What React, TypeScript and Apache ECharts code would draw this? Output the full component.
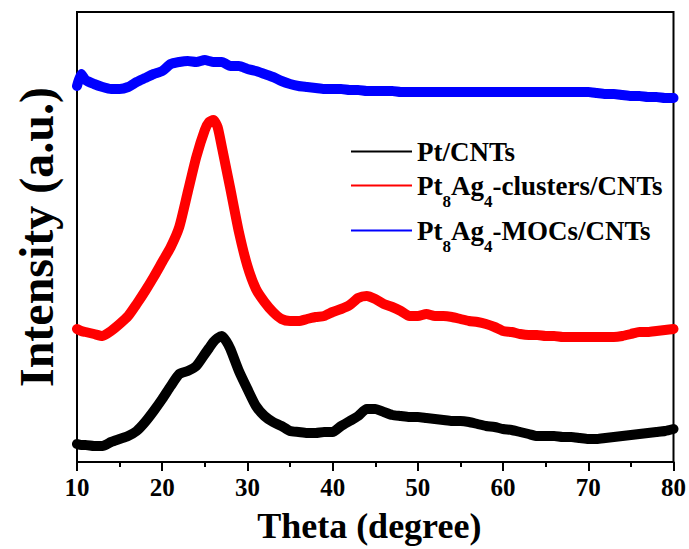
import React, { useEffect, useRef } from "react";
import * as echarts from "echarts";

// 2θ sampling positions (degree)
const theta: number[] = [
  10, 10.5, 11, 12, 13, 14, 15, 16, 17, 18, 19, 20, 21, 22, 23, 24, 25, 25.5, 26, 26.5, 27, 27.5,
  28, 29, 30, 31, 32, 33, 34, 35, 36, 37, 38, 39, 40, 41, 42, 43, 44, 45, 46, 47, 48, 49, 50,
  51, 52, 53, 54, 55, 56, 57, 58, 59, 60, 61, 62, 63, 64, 65, 66, 67, 68, 69, 70, 71, 72, 73,
  74, 75, 76, 77, 78, 79, 80,
];

// Intensities (a.u., curves stacked with offsets)
const ptCnts: number[] = [
  18, 17, 17, 16, 16, 20, 23, 26, 31, 40, 51, 63, 76, 88, 91, 96, 108, 114, 120, 124, 126, 121,
  113, 91, 73, 56, 46, 40, 36, 31, 30, 29, 29, 30, 30, 36, 41, 46, 53, 53, 50, 47, 46, 45, 45,
  44, 43, 42, 41, 41, 40, 38, 36, 35, 33, 32, 30, 28, 26, 26, 26, 25, 25, 24, 23, 23, 24, 25,
  26, 27, 28, 29, 30, 31, 33,
];

const clustersCnts: number[] = [
  133, 131, 130, 128, 126, 131, 138, 146, 158, 171, 185, 200, 215, 235, 270, 305, 332, 340, 342, 335, 315, 294,
  273, 230, 196, 173, 160, 150, 143, 141, 141, 143, 145, 146, 150, 153, 157, 164, 166, 163, 158, 155, 151, 146, 146,
  148, 146, 146, 145, 143, 141, 140, 138, 135, 131, 130, 128, 127, 127, 126, 126, 125, 125, 125, 125, 125, 125, 125,
  126, 128, 130, 130, 131, 132, 133,
];

const mocsCnts: number[] = [
  376, 388, 382, 378, 375, 373, 373, 375, 380, 384, 388, 391, 398, 400, 401, 400, 402, 401, 400, 400, 400, 398,
  396, 396, 393, 391, 388, 385, 381, 378, 376, 375, 374, 373, 373, 373, 372, 372, 371, 371, 371, 371, 370, 370, 370,
  370, 370, 370, 370, 370, 370, 370, 370, 370, 370, 370, 370, 370, 370, 370, 370, 370, 370, 370, 370, 369, 368, 368,
  367, 366, 366, 365, 365, 364, 364,
];

const seriesNames = ["Pt/CNTs", "Pt8Ag4-clusters/CNTs", "Pt8Ag4-MOCs/CNTs"];
const seriesColors = ["#000000", "#ff0000", "#0000ff"];
const legendRich: Record<string, string> = {
  "Pt/CNTs": "{n|Pt/CNTs}",
  "Pt8Ag4-clusters/CNTs": "{n|Pt}{s|8}{n|Ag}{s|4}{n|-clusters/CNTs}",
  "Pt8Ag4-MOCs/CNTs": "{n|Pt}{s|8}{n|Ag}{s|4}{n|-MOCs/CNTs}",
};

const xTicks = { min: 10, max: 80, interval: 10 };
const FONT = "'Liberation Serif', 'Times New Roman', serif";

export default function App() {
  const ref = useRef<HTMLDivElement>(null);

  useEffect(() => {
    if (!ref.current) return;
    const chart = echarts.init(ref.current, undefined, { renderer: "svg" });
    const values = [ptCnts, clustersCnts, mocsCnts];

    chart.setOption({
      animation: false,
      backgroundColor: "#ffffff",
      grid: {
        left: 77,
        right: 14,
        top: 12,
        bottom: 86,
        show: true,
        borderColor: "#000",
        borderWidth: 2,
        backgroundColor: "transparent",
      },
      legend: {
        orient: "vertical",
        left: 351,
        top: 138,
        padding: 0,
        itemWidth: 61,
        itemHeight: 2,
        itemGap: 7,
        icon: "rect",
        data: seriesNames,
        formatter: (name: string) => legendRich[name],
        textStyle: {
          rich: {
            n: {
              fontFamily: FONT,
              fontWeight: "bold",
              fontSize: 27,
              lineHeight: 30,
              color: "#000",
            },
            s: {
              fontFamily: FONT,
              fontWeight: "bold",
              fontSize: 17,
              lineHeight: 14,
              padding: [16, 0, -16, 0],
              color: "#000",
            },
          },
        },
      },
      xAxis: {
        type: "value",
        min: xTicks.min,
        max: xTicks.max,
        interval: xTicks.interval,
        name: "Theta (degree)",
        nameLocation: "middle",
        nameGap: 46,
        nameTextStyle: {
          fontFamily: FONT,
          fontWeight: "bold",
          fontSize: 36,
          color: "#000",
          padding: [0, 12, 0, 0],
        },
        axisLine: { show: true, onZero: false, lineStyle: { color: "#000", width: 2 } },
        axisTick: { show: true, inside: false, length: 9, lineStyle: { color: "#000", width: 2 } },
        minorTick: { show: true, splitNumber: 2, length: 5, lineStyle: { color: "#000", width: 2 } },
        axisLabel: { fontFamily: FONT, fontWeight: "bold", fontSize: 25, color: "#000", margin: 13 },
        splitLine: { show: false },
        minorSplitLine: { show: false },
      },
      yAxis: {
        type: "value",
        min: 0,
        max: 450,
        name: "Intensity (a.u.)",
        nameLocation: "middle",
        nameGap: 17,
        nameTextStyle: { fontFamily: FONT, fontWeight: "bold", fontSize: 48, color: "#000" },
        axisLine: { show: true, lineStyle: { color: "#000", width: 2 } },
        axisTick: { show: false },
        axisLabel: { show: false },
        splitLine: { show: false },
      },
      series: seriesNames.map((name, i) => ({
        name,
        type: "line",
        showSymbol: false,
        symbol: "none",
        smooth: 0.2,
        color: seriesColors[i],
        itemStyle: { color: seriesColors[i] },
        lineStyle: { color: seriesColors[i], width: 10, join: "round", cap: "round" },
        data: theta.map((t, k) => [t, values[i][k]]),
        z: 2 + i,
      })),
    });

    return () => chart.dispose();
  }, []);

  return (
    <div
      ref={ref}
      style={{ position: "fixed", left: 0, top: 0, width: 689, height: 549, background: "#fff" }}
    />
  );
}
